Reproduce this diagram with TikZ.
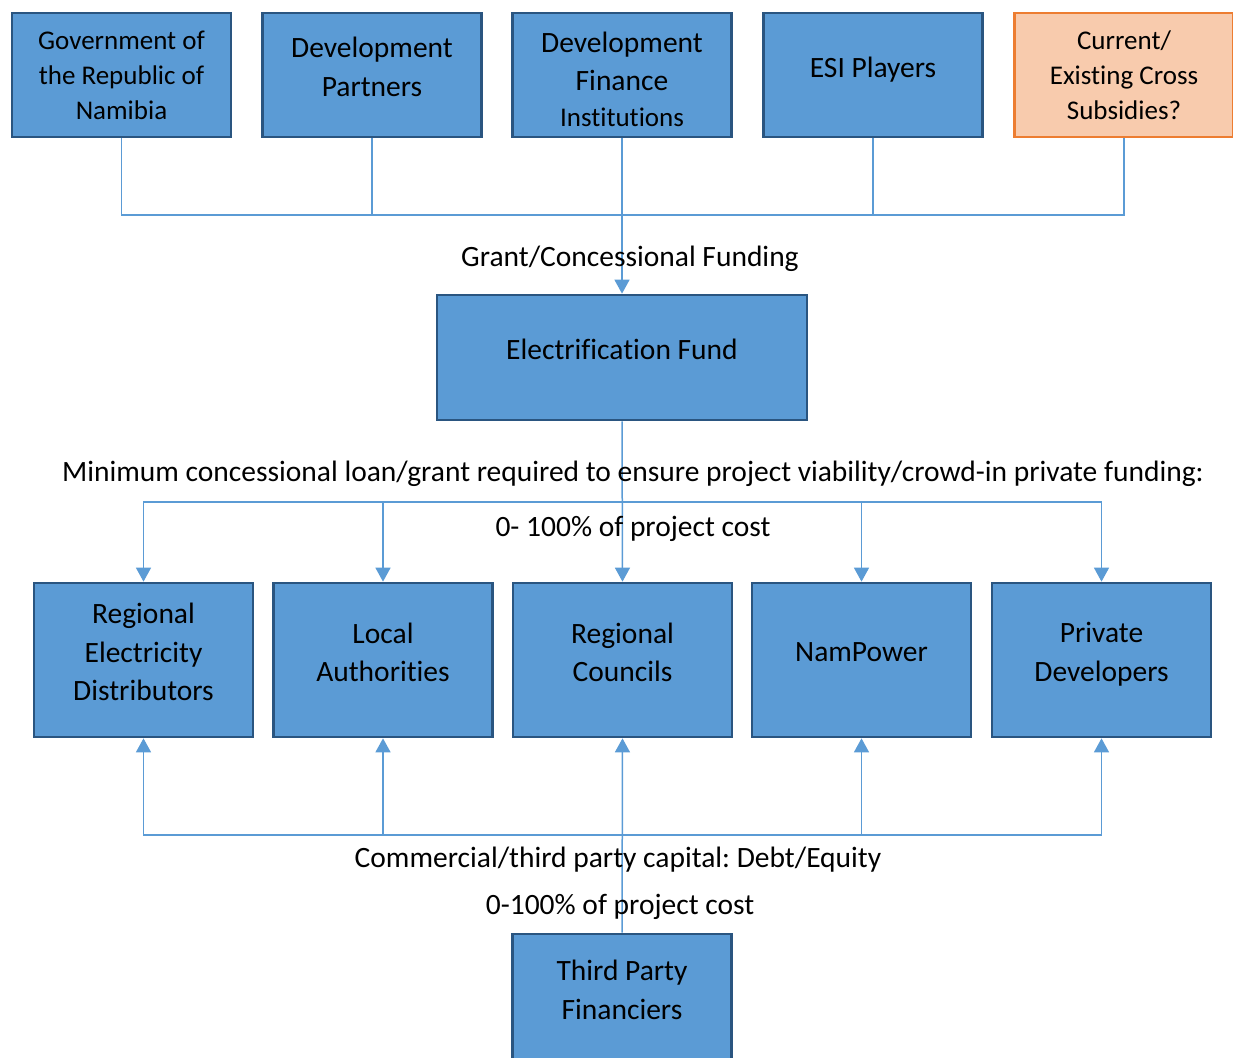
\documentclass[tikz,border=0pt]{standalone}
\usepackage{fontspec}
\setmainfont{Carlito}[Ligatures=NoCommon]
\usetikzlibrary{arrows.meta}
\definecolor{boxfill}{HTML}{5B9BD5}
\definecolor{boxline}{HTML}{2A5580}
\definecolor{orfill}{HTML}{F8CBAD}
\definecolor{orline}{HTML}{ED7D31}
\definecolor{conncol}{HTML}{5B9BD5}
\tikzset{
  box/.style={draw=boxline, fill=boxfill, line width=2.7pt, align=center, inner sep=0pt,
    minimum width=219pt, minimum height=124pt, font=\fontsize{29.5}{38.5}\selectfont, text depth=16pt},
  smallbox/.style={box, font=\fontsize{27}{35}\selectfont, text depth=},
  orbox/.style={smallbox, draw=orline, fill=orfill},
  lowbox/.style={box, minimum height=154pt},
  conn/.style={draw=conncol, line width=1.5pt},
  arr/.style={conn, -{Triangle[width=15pt,length=14pt]}},
  lbl/.style={font=\fontsize{29.5}{34}\selectfont, inner sep=0pt},
  txt/.style={align=center, inner sep=0pt}
}
\frenchspacing
\begin{document}
\begin{tikzpicture}[x=1pt,y=-1pt]
\useasboundingbox (0,0) rectangle (1233,1057);
% top row
\node[smallbox] (gov) at (121.5,75) {Government of\\the Republic of\\Namibia};
\node[box] (dp) at (372,75) {Development\\Partners};
\node[box] (dfi) at (622,75) {};
\node[txt, font=\fontsize{29.5}{38}\selectfont] (dfitxt) at (622,79) {Development\\Finance\\[-2pt]{\fontsize{27}{35}\selectfont Institutions}};
\node[box] (esi) at (873,75) {ESI Players};
\node[orbox] (cur) at (1124,75) {Current/\\Existing Cross\\Subsidies?};
% fund
\node[box, minimum width=370pt, minimum height=125pt] (ef) at (622,357.5) {Electrification Fund};
% lower row
\node[lowbox] (red) at (143.5,660) {Regional\\Electricity\\Distributors};
\node[lowbox] (la) at (383,660) {Local\\Authorities};
\node[lowbox] (rc) at (622.5,660) {Regional\\Councils};
\node[lowbox] (np) at (861.5,660) {NamPower};
\node[lowbox] (pd) at (1101.5,660) {Private\\Developers};
% bottom
\node[box, minimum height=150pt] (tpf) at (622,1009) {};
\node[txt, font=\fontsize{29.5}{38.5}\selectfont] (tpftxt) at (622,990) {Third Party\\Financiers};
% junctions
\coordinate (jt) at (622,215);
\coordinate (jm) at (622,502);
\coordinate (jb) at (622,835);
% top connectors
\draw[conn] (gov.south) |- (jt);
\draw[conn] (cur.south) |- (jt);
\draw[conn] (dp.south) -- (dp.south |- jt);
\draw[conn] (esi.south) -- (esi.south |- jt);
\draw[arr] (dfi.south) -- (ef.north);
% middle connectors
\draw[arr] (ef.south) -- (rc.north);
\draw[arr] (jm) -| (red.north);
\draw[arr] (jm) -| (pd.north);
\draw[arr] (la.north |- jm) -- (la.north);
\draw[arr] (np.north |- jm) -- (np.north);
% bottom connectors
\draw[arr] (tpf.north) -- (rc.south);
\draw[arr] (jb) -| (red.south);
\draw[arr] (jb) -| (pd.south);
\draw[arr] (la.south |- jb) -- (la.south);
\draw[arr] (np.south |- jb) -- (np.south);
% labels
\node[lbl] (l1) at (630,259) {Grant/Concessional Funding};
\node[lbl] (l2) at (633,474) {Minimum concessional loan/grant required to ensure project viability/crowd-in private funding:};
\node[lbl] (l3) at (633,529) {0- 100\% of project cost};
\node[lbl] (l4) at (618,860) {Commercial/third party capital: Debt/Equity};
\node[lbl] (l5) at (620,907) {0-100\% of project cost};
\end{tikzpicture}
\end{document}
